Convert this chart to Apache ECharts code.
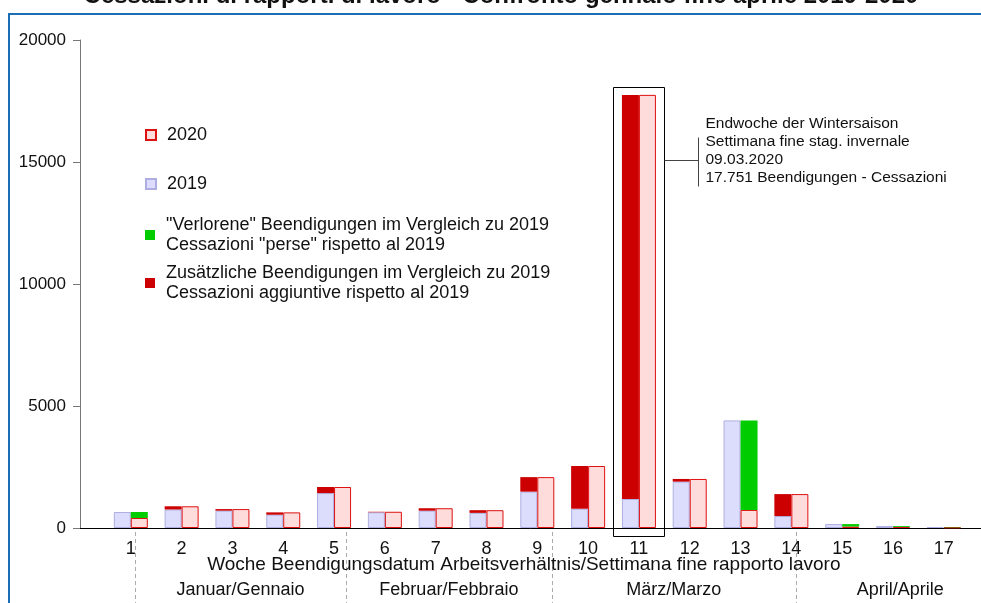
<!DOCTYPE html>
<html>
<head>
<meta charset="utf-8">
<script src="https://cdn.jsdelivr.net/npm/echarts@6/dist/echarts.min.js"></script>
<style>
  html, body { margin: 0; padding: 0; background: #fff; }
  #chart { width: 981px; height: 603px; }
</style>
</head>
<body>
<div id="chart"></div>
<script>
// week numbers and terminations per week
const weeks = [1, 2, 3, 4, 5, 6, 7, 8, 9, 10, 11, 12, 13, 14, 15, 16, 17];
const v2019 = [655, 760, 710, 545, 1430, 645, 710, 620, 1490, 790, 1190, 1900, 4410, 490, 160, 80, 40];
const v2020 = [410, 890, 775, 640, 1680, 665, 810, 730, 2085, 2540, 17751, 2010, 740, 1390, 60, 45, 25];

// month bands along the week axis (week units)
const monthNames = ["Januar/Gennaio", "Februar/Febbraio", "März/Marzo", "April/Aprile"];
const monthBounds = [1.08, 5.24, 9.28, 14.09, 18.2];

const noteWeek = 11;
const noteLines = [
  "Endwoche der Wintersaison",
  "Settimana fine stag. invernale",
  "09.03.2020",
  "17.751 Beendigungen - Cessazioni"
];

const nameLost = '"Verlorene" Beendigungen im Vergleich zu 2019\nCessazioni "perse" rispetto al 2019';
const nameExtra = "Zusätzliche Beendigungen im Vergleich zu 2019\nCessazioni aggiuntive rispetto al 2019";

const FONT = "Liberation Sans, Arial, sans-serif";

// axis runs from week 0 to an empty week 18 so week 0 sits on the y axis
const axisCats = ["0"].concat(weeks.map(String), ["18"]);
const pts = (vals) => weeks.map((w, i) => [String(w), vals[i]]);
const extra = weeks.map((w, i) => [String(w), Math.max(v2020[i] - v2019[i], 0)]);
const lost = weeks.map((w, i) => [String(w), Math.max(v2019[i] - v2020[i], 0)]);

const chart = echarts.init(document.getElementById("chart"));

const legendAt = (name, top) => ({
  data: [name],
  orient: "vertical",
  left: 145,
  top: top,
  padding: 0,
  itemWidth: 10,
  itemHeight: 10,
  icon: "rect",
  selectedMode: false,
  textStyle: { fontFamily: FONT, fontSize: 18, color: "#111", lineHeight: 20, padding: [0, 0, 0, 6] },
});

const option = {
  animation: false,
  title: {
    text: "Cessazioni di rapporti di lavoro - Confronto gennaio fine aprile 2019-2020",
    left: 501,
    textAlign: "center",
    top: -16,
    padding: 0,
    textStyle: { fontFamily: FONT, fontSize: 24, fontWeight: "bold", color: "#111" },
  },
  legend: [
    legendAt("2020", 125),
    legendAt("2019", 174),
    legendAt(nameLost, 215),
    legendAt(nameExtra, 263),
  ],
  grid: { left: 80, right: -13.6, top: 40, bottom: 75, outerBoundsMode: "none" },
  xAxis: {
    type: "category",
    data: axisCats,
    boundaryGap: false,
    name: "Woche Beendigungsdatum Arbeitsverhältnis/Settimana fine rapporto lavoro",
    nameLocation: "middle",
    nameGap: 27,
    nameMoveOverlap: false,
    nameTextStyle: { fontFamily: FONT, fontSize: 19, color: "#111", padding: [0, 27, 0, 0] },
    axisLine: { lineStyle: { color: "#000", width: 1 } },
    axisTick: { show: false },
    splitLine: { show: false },
    axisLabel: {
      fontFamily: FONT, fontSize: 18, color: "#111", margin: 12, interval: 0,
      formatter: (v) => (v === "0" || v === "18" ? "" : v),
    },
  },
  yAxis: {
    type: "value",
    min: 0,
    max: 20000,
    interval: 5000,
    axisLine: { show: true, lineStyle: { color: "#777" } },
    axisTick: { show: true, length: 7, lineStyle: { color: "#777" } },
    splitLine: { show: false },
    axisLabel: { fontFamily: FONT, fontSize: 17, color: "#111", margin: 14, formatter: (v) => String(v) },
  },
  series: [
    {
      name: "2019", type: "bar", stack: "a", data: pts(v2019),
      barWidth: 17, barGap: "0%",
      itemStyle: { color: "#dcdcfc", borderColor: "#aeaee2", borderWidth: 1 },
    },
    {
      name: nameExtra, type: "bar", stack: "a", data: extra,
      barWidth: 17, barGap: "0%",
      itemStyle: { color: "#cc0000" },
    },
    {
      name: "2020", type: "bar", stack: "b", data: pts(v2020),
      barWidth: 17, barGap: "0%",
      itemStyle: { color: "#ffdcdc", borderColor: "#dd1111", borderWidth: 1 },
    },
    {
      name: nameLost, type: "bar", stack: "b", data: lost,
      barWidth: 17, barGap: "0%",
      itemStyle: { color: "#00cc00" },
    },
  ],
};

chart.setOption(option);

// month separators, month names, frame and the note on week 11
const px = (cat, y) => chart.convertToPixel({ gridIndex: 0 }, [cat, y]);
const x0 = px("0", 0)[0];
const step = px("1", 0)[0] - x0;
const weekX = (w) => x0 + w * step;

const graphics = [
  {
    type: "rect", z: 0, silent: true,
    shape: { x: 9, y: 14, width: 1000, height: 700 },
    style: { fill: "none", stroke: "#1b6db5", lineWidth: 2 },
  },
];

monthBounds.slice(0, 4).forEach((b) => {
  const x = Math.round(weekX(b)) + 0.5;
  graphics.push({
    type: "line", silent: true,
    shape: { x1: x, y1: 532, x2: x, y2: 603 },
    style: { stroke: "#aaa", lineWidth: 1, lineDash: [4, 3] },
  });
});

monthNames.forEach((m, i) => {
  graphics.push({
    type: "text", silent: true, x: weekX((monthBounds[i] + monthBounds[i + 1]) / 2), y: 590,
    style: { text: m, font: "18px " + FONT, fill: "#111", align: "center", verticalAlign: "middle" },
  });
});

const [cx, yTop] = px(String(noteWeek), v2020[noteWeek - 1]);
const y0 = px(String(noteWeek), 0)[1];
const boxL = Math.round(cx - 26) + 0.5;
const boxR = Math.round(cx + 25) + 0.5;
const boxT = Math.round(yTop - 8) + 0.5;
const boxB = Math.round(y0 + 8) + 0.5;
graphics.push(
  {
    type: "rect", silent: true,
    shape: { x: boxL, y: boxT, width: boxR - boxL, height: boxB - boxT },
    style: { fill: "none", stroke: "#000", lineWidth: 1 },
  },
  {
    type: "line", silent: true,
    shape: { x1: boxR, y1: boxT + 73, x2: boxR + 34, y2: boxT + 73 },
    style: { stroke: "#444", lineWidth: 1 },
  },
  {
    type: "line", silent: true,
    shape: { x1: boxR + 34, y1: boxT + 50, x2: boxR + 34, y2: boxT + 99 },
    style: { stroke: "#444", lineWidth: 1 },
  },
  {
    type: "text", silent: true, x: boxR + 41, y: boxT + 27,
    style: {
      text: noteLines.join("\n"), font: "15.5px " + FONT, fill: "#111",
      lineHeight: 18, verticalAlign: "top",
    },
  }
);

chart.setOption({ graphic: graphics });
</script>
</body>
</html>
